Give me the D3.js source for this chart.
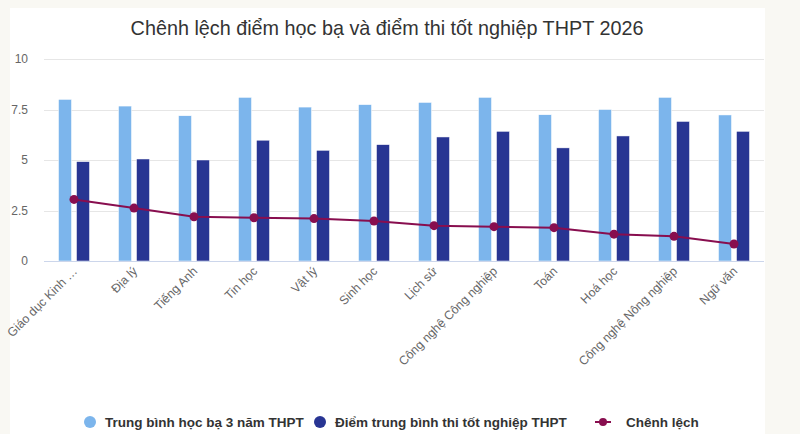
<!DOCTYPE html>
<html>
<head>
<meta charset="utf-8">
<script src="https://cdn.jsdelivr.net/npm/d3@7"></script>
<style>
  html, body { margin: 0; padding: 0; background: #f9f8f3; }
  svg { display: block; font-family: "Liberation Sans", Arial, sans-serif; }
</style>
</head>
<body>
<div id="chart"></div>
<script>
"use strict";

// subjects (x axis)
const subjects = ["Giáo dục Kinh tế và Pháp luật", "Địa lý", "Tiếng Anh", "Tin học", "Vật lý", "Sinh học",
    "Lịch sử", "Công nghệ Công nghiệp", "Toán", "Hoá học", "Công nghệ Nông nghiệp", "Ngữ văn"];

// average of school records, 3 years
const hocBa = [8.0, 7.67, 7.19, 8.1, 7.62, 7.74, 7.85, 8.1, 7.24, 7.5, 8.1, 7.23];

// average graduation exam score
const diemThi = [4.92, 5.05, 5.0, 5.98, 5.48, 5.76, 6.14, 6.42, 5.6, 6.19, 6.91, 6.42];

// difference
const chenhLech = [3.05, 2.62, 2.19, 2.14, 2.1, 1.98, 1.75, 1.7, 1.65, 1.33, 1.22, 0.84];

const yTicks = [0, 2.5, 5, 7.5, 10];
const seriesNames = ["Trung bình học bạ 3 năm THPT", "Điểm trung bình thi tốt nghiệp THPT", "Chênh lệch"];
const colors = ["#7cb5ec", "#283593", "#880e4f"];

const W = 800, H = 434;
const margin = { top: 59, left: 44, right: 36, bottom: 173 };
const plotW = W - margin.left - margin.right;
const plotH = H - margin.top - margin.bottom;

const svg = d3.select("#chart").append("svg")
    .attr("width", W)
    .attr("height", H);

// white panel
svg.append("rect")
    .attr("x", 10).attr("y", 8)
    .attr("width", 755).attr("height", H - 8)
    .attr("fill", "#ffffff");

svg.append("text")
    .attr("x", 387)
    .attr("y", 35)
    .attr("text-anchor", "middle")
    .attr("font-size", 19.8)
    .attr("fill", "#333333")
    .text("Chênh lệch điểm học bạ và điểm thi tốt nghiệp THPT 2026");

const g = svg.append("g")
    .attr("transform", `translate(${margin.left},${margin.top})`);

const x = d3.scaleBand()
    .domain(subjects)
    .range([0, plotW]);

const y = d3.scaleLinear()
    .domain([0, 10])
    .range([plotH, 0]);

// grid lines + y labels
g.append("g")
    .selectAll("line")
    .data(yTicks.filter(t => t > 0))
    .join("line")
    .attr("x1", 0).attr("x2", plotW)
    .attr("y1", d => Math.round(y(d)) + 0.5)
    .attr("y2", d => Math.round(y(d)) + 0.5)
    .attr("stroke", "#e6e6e6");

g.append("g")
    .selectAll("text")
    .data(yTicks)
    .join("text")
    .attr("x", -16)
    .attr("y", d => y(d) + 4)
    .attr("text-anchor", "end")
    .attr("font-size", 12)
    .attr("fill", "#666666")
    .text(d => d);

// bars
const barW = 13, gap = 5;
const bars = g.append("g");
[hocBa, diemThi].forEach((vals, s) => {
    bars.append("g")
        .selectAll("rect")
        .data(vals)
        .join("rect")
        .attr("x", (d, i) => x(subjects[i]) + x.bandwidth() / 2 - barW - gap / 2 + s * (barW + gap))
        .attr("y", d => y(d))
        .attr("width", barW)
        .attr("height", d => plotH - y(d))
        .attr("fill", colors[s])
        .attr("stroke", "#ffffff")
        .attr("stroke-width", 0.5);
});

// x axis line
g.append("line")
    .attr("x1", 0).attr("x2", plotW)
    .attr("y1", plotH + 0.5).attr("y2", plotH + 0.5)
    .attr("stroke", "#ccd6eb");

// x labels, rotated; very long names get cut like the original
function shortLabel(s) {
    return s.length > 24 ? s.slice(0, 14) + "…" : s;
}
g.append("g")
    .selectAll("text")
    .data(subjects)
    .join("text")
    .attr("text-anchor", "end")
    .attr("font-size", 12.3)
    .attr("fill", "#666666")
    .attr("transform", d => `translate(${x(d) + x.bandwidth() / 2 + 4},${plotH + 11}) rotate(-45)`)
    .text(d => shortLabel(d));

// difference line
const line = d3.line()
    .x((d, i) => x(subjects[i]) + x.bandwidth() / 2)
    .y(d => y(d));

g.append("path")
    .datum(chenhLech)
    .attr("d", line)
    .attr("fill", "none")
    .attr("stroke", colors[2])
    .attr("stroke-width", 2);

g.append("g")
    .selectAll("circle")
    .data(chenhLech)
    .join("circle")
    .attr("cx", (d, i) => x(subjects[i]) + x.bandwidth() / 2)
    .attr("cy", d => y(d))
    .attr("r", 4.5)
    .attr("fill", colors[2]);

// legend
const legendY = 422;
const legendX = [90, 320, 603];
const legend = svg.append("g");
seriesNames.forEach((name, i) => {
    const item = legend.append("g")
        .attr("transform", `translate(${legendX[i]},${legendY})`);
    if (i < 2) {
        item.append("circle")
            .attr("r", 6)
            .attr("fill", colors[i]);
    } else {
        item.append("line")
            .attr("x1", -8).attr("x2", 8)
            .attr("stroke", colors[i])
            .attr("stroke-width", 2);
        item.append("circle")
            .attr("r", 4)
            .attr("fill", colors[i]);
    }
    item.append("text")
        .attr("x", i < 2 ? 15 : 23)
        .attr("y", 4.5)
        .attr("font-size", 13.5)
        .attr("font-weight", "bold")
        .attr("fill", "#333333")
        .text(name);
});
</script>
</body>
</html>
